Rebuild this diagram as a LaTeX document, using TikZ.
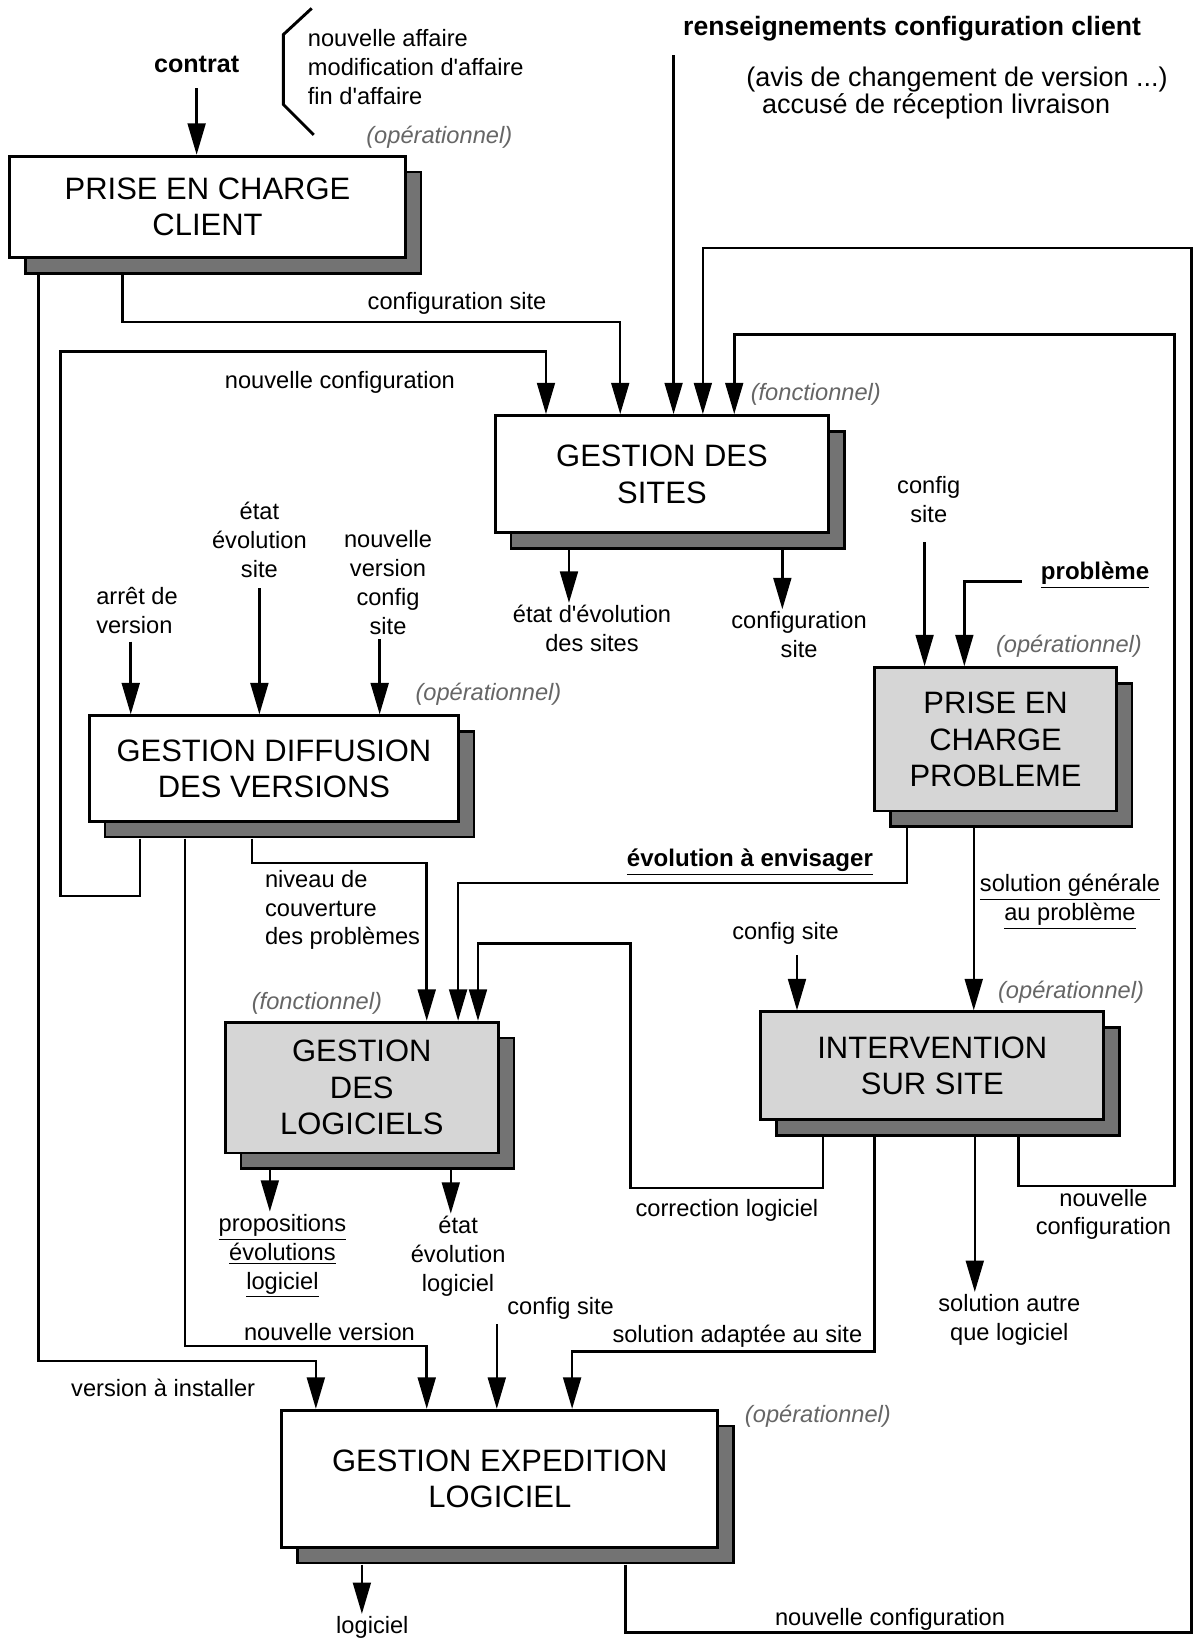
\documentclass[tikz,border=0pt]{standalone}
\usepackage{fontspec}
\setmainfont{Liberation Sans}[Ligatures=TeXOff]
\usetikzlibrary{arrows.meta,calc,shadows}

\begin{document}
\begin{tikzpicture}[x=0.5pt,y=-0.5pt,
  proc/.style={draw=black, line width=1.4pt, fill=white, inner sep=0pt, align=center,
    font=\fontsize{14.8}{17.5}\selectfont, anchor=north west,
    drop shadow={shadow xshift=7.5pt, shadow yshift=-7.5pt, opacity=1,
      fill=black!55, draw=black, line width=1.2pt}},
  grayproc/.style={proc, fill=black!16},
  dim/.style 2 args={minimum width=#1*0.5pt, minimum height=#2*0.5pt},
  lbl/.style={font=\fontsize{11.3}{13.8}\selectfont, align=center, inner sep=1pt},
  blbl/.style={font=\fontsize{11.5}{13.8}\selectfont\bfseries, inner sep=1pt},
  kind/.style={font=\fontsize{11.3}{13.8}\selectfont\itshape, text=black!60, inner sep=0pt},
  link/.style={line width=1.2pt},
  arr/.style={link, -{Triangle[length=15pt,width=8.5pt]}},
]
\useasboundingbox (0,0) rectangle (1143,1568);

% ---- process boxes ----
\node[proc, dim={378}{97}] (pcc) at (8,148) {PRISE EN CHARGE\\CLIENT};
\node[proc, dim={319}{112}] (gds) at (472,396) {GESTION DES\\SITES};
\node[proc, dim={353}{101}] (gdv) at (84,683) {GESTION DIFFUSION\\DES VERSIONS};
\node[grayproc, dim={231}{137}] (pcp) at (835,637) {PRISE EN\\CHARGE\\PROBLEME};
\node[grayproc, dim={261}{125}] (gdl) at (214,976) {GESTION\\DES\\LOGICIELS};
\node[grayproc, dim={328}{103}] (int) at (726,966) {INTERVENTION\\SUR SITE};
\node[proc, dim={417}{131}] (gel) at (268,1347) {GESTION EXPEDITION\\LOGICIEL};

% ---- box kinds ----
\node[kind] (k1) at (420,131) {(opérationnel)};
\node[kind] (k2) at (780,377) {(fonctionnel)};
\node[kind] (k3) at (1022,618) {(opérationnel)};
\node[kind] (k4) at (467,664) {(opérationnel)};
\node[kind] (k5) at (303,959) {(fonctionnel)};
\node[kind] (k6) at (1024,949) {(opérationnel)};
\node[kind] (k7) at (782,1354) {(opérationnel)};

% ---- flow labels ----
\node[blbl, font=\fontsize{12}{14}\selectfont\bfseries] (contrat) at (188,62) {contrat};
\node[lbl, align=left, anchor=west] (affaire) at (292,64) {nouvelle affaire\\modification d'affaire\\fin d'affaire};
\node[font=\fontsize{12.7}{15}\selectfont\bfseries, inner sep=1pt] (rens) at (872,27) {renseignements configuration client};
\node[lbl, font=\fontsize{12.9}{15}\selectfont] (avis1) at (915,76) {(avis de changement de version ...)};
\node[lbl, font=\fontsize{12.9}{15}\selectfont] (avis2) at (895,102) {accusé de réception livraison};
\node[lbl] (cfgsite1) at (437,290) {configuration site};
\node[lbl] (nconf1) at (325,366) {nouvelle configuration};
\node[lbl] (etatsites) at (566,601) {état d'évolution\\des sites};
\node[lbl] (cfgsite2) at (764,607) {configuration\\site};
\node[lbl] (cfgsite3) at (888,478) {config\\site};
\node[blbl] (prob) at (1047,550) {\underline{problème}};
\node[lbl, align=left] (arret) at (131,584) {arrêt de\\version};
\node[lbl] (etatsite) at (248,516) {état\\évolution\\site};
\node[lbl] (nvcfg) at (371,557) {nouvelle\\version\\config\\site};
\node[blbl] (evol) at (717,824) {\underline{évolution à envisager}};
\node[lbl] (solgen) at (1023,862) {\underline{solution générale}\\\underline{au problème}};
\node[lbl, align=left, anchor=west] (niveau) at (251,870) {niveau de\\couverture\\des problèmes};
\node[lbl] (cfgsite4) at (751,892) {config site};
\node[lbl] (propo) at (270,1201) {\underline{propositions}\\\underline{évolutions}\\\underline{logiciel}};
\node[lbl] (etatlog) at (438,1201) {état\\évolution\\logiciel};
\node[lbl] (corr) at (695,1157) {correction logiciel};
\node[lbl] (nconf2) at (1055,1161) {nouvelle\\configuration};
\node[lbl] (solautre) at (965,1262) {solution autre\\que logiciel};
\node[lbl] (cfgsite5) at (536,1251) {config site};
\node[lbl] (nver) at (315,1274) {nouvelle version};
\node[lbl] (solad) at (705,1278) {solution adaptée au site};
\node[lbl] (vinst) at (156,1327) {version à installer};
\node[lbl] (logiciel) at (356,1556) {logiciel};
\node[lbl] (nconf3) at (851,1548) {nouvelle configuration};

% bracket grouping the contract events
\draw[line width=1.4pt] (298,8) -- (271,33) -- (271,100) -- (300,129);

% ---- connectors ----
% into PRISE EN CHARGE CLIENT
\draw[arr] (contrat.south) ++(0,12) -- (contrat.south |- pcc.north);

% out of PRISE EN CHARGE CLIENT
\draw[arr] ($(pcc.south west)+(29,15)$) |- (302,1301) -- (302,0 |- gel.north);
\draw[arr] ($(pcc.south west)+(109,15)$) |- (593,308) -- (593,0 |- gds.north);

% into GESTION DES SITES
\coordinate (rensfoot) at (644,53);
\draw[arr] (rensfoot) -- (rensfoot |- gds.north);
\draw[arr] ($(gdv.south west)+(50,15)$) -- ++(0,55) -| (58,336) -| (522,0 |- gds.north);
\draw[arr] ($(gel.south west)+(330,15)$) -- (598,1561) -| (1139,237) -| (672,0 |- gds.north);
\draw[arr] ($(int.south west)+(248,15)$) -- (974,1134) -| (1123,320) -| (702,0 |- gds.north);

% out of GESTION DES SITES
\draw[arr] ($(gds.south west)+(72,15)$) -- (544,0 |- etatsites.north);
\draw[arr] ($(gds.south west)+(276,15)$) -- (748,0 |- cfgsite2.north);

% into PRISE EN CHARGE PROBLEME
\draw[arr] (884,0 |- cfgsite3.south) ++(0,16) -- (884,0 |- pcp.north);
\draw[arr] (prob.west) ++(-16,6) -| (922,0 |- pcp.north);

% into GESTION DIFFUSION DES VERSIONS
\draw[arr] (125,0 |- arret.south) ++(0,5) -- (125,0 |- gdv.north);
\draw[arr] (248,0 |- etatsite.south) ++(0,8) -- (248,0 |- gdv.north);
\draw[arr] (363,0 |- nvcfg.south) ++(0,2) -- (363,0 |- gdv.north);

% out of GESTION DIFFUSION DES VERSIONS
\draw[arr] ($(gdv.south west)+(93,15)$) |- (408,1287) -- (408,0 |- gel.north);
\draw[arr] ($(gdv.south west)+(157,15)$) |- (408,825) -- (408,0 |- gdl.north);

% out of PRISE EN CHARGE PROBLEME
\draw[arr] ($(pcp.south west)+(32,15)$) |- (438,844) -- (438,0 |- gdl.north);
\draw[arr] ($(pcp.south west)+(96,15)$) -- (931,0 |- int.north);

% INTERVENTION SUR SITE
\draw[arr] ($(int.south west)+(61,15)$) |- (603,1136) |- (457,902) -- (457,0 |- gdl.north);
\draw[arr] (762,0 |- cfgsite4.south) ++(0,8) -- (762,0 |- int.north);
\draw[arr] ($(int.south west)+(110,15)$) |- (547,1292) -- (547,0 |- gel.north);
\draw[arr] ($(int.south west)+(206,15)$) -- (932,0 |- solautre.north);

% out of GESTION DES LOGICIELS
\draw[arr] ($(gdl.south west)+(44,15)$) -- (258,0 |- propo.north);
\draw[arr] ($(gdl.south west)+(217,15)$) -- (431,0 |- etatlog.north);

% GESTION EXPEDITION LOGICIEL
\draw[arr] (475,0 |- cfgsite5.south) ++(0,2) -- (475,0 |- gel.north);
\draw[arr] ($(gel.south west)+(78,15)$) -- (346,0 |- logiciel.north);
\end{tikzpicture}
\end{document}
